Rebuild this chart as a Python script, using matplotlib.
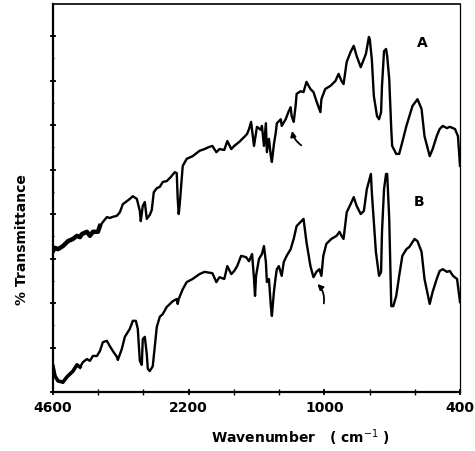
import numpy as np
import matplotlib
matplotlib.use('Agg')
import matplotlib.pyplot as plt

# spectrum A (wavenumber, transmittance in tick units)
wn_a = [4600, 4565, 4512, 4424, 4335, 4247, 4176, 4123, 4088, 4000, 3947, 3894, 3806, 3770,
        3718, 3647, 3594, 3559, 3470, 3417, 3365, 3294, 3241, 3188, 3117, 3064, 3047, 3012,
        2976, 2941, 2888, 2853, 2817, 2764, 2711, 2659, 2588, 2517, 2447, 2411, 2394, 2376,
        2358, 2305, 2235, 2165, 2104, 2060, 2016, 1990, 1955, 1928, 1885, 1858, 1823, 1797,
        1753, 1709, 1683, 1666, 1648, 1622, 1596, 1561, 1552, 1534, 1517, 1508, 1490, 1473,
        1464, 1446, 1429, 1420, 1385, 1377, 1342, 1315, 1298, 1289, 1271, 1254, 1245, 1210,
        1184, 1158, 1123, 1096, 1070, 1035, 1026, 996, 973, 951, 937, 924, 915, 901, 884,
        870, 857, 839, 816, 803, 799, 790, 781, 767, 758, 749, 745, 736, 727, 722, 713, 704,
        700, 682, 669, 655, 637, 624, 610, 588, 570, 557, 534, 521, 503, 490, 476, 458, 445,
        422, 409, 400]
tr_a = [3.17, 3.24, 3.21, 3.28, 3.39, 3.44, 3.51, 3.48, 3.55, 3.60, 3.51, 3.60, 3.60, 3.73,
        3.82, 3.93, 3.91, 3.93, 3.96, 4.04, 4.22, 4.29, 4.34, 4.40, 4.34, 4.07, 3.84, 4.18,
        4.27, 3.89, 3.98, 4.09, 4.49, 4.58, 4.61, 4.72, 4.74, 4.83, 4.94, 4.92, 4.34, 4.00,
        4.22, 5.08, 5.24, 5.30, 5.42, 5.46, 5.51, 5.53, 5.39, 5.46, 5.44, 5.64, 5.46, 5.53,
        5.62, 5.73, 5.80, 5.91, 6.07, 5.53, 5.96, 5.89, 5.98, 5.53, 6.04, 5.39, 5.69, 5.30,
        5.17, 5.57, 5.84, 6.04, 6.13, 5.98, 6.13, 6.31, 6.40, 6.20, 6.07, 6.43, 6.70, 6.76,
        6.74, 6.97, 6.81, 6.74, 6.54, 6.29, 6.58, 6.81, 6.88, 6.99, 7.15, 6.99, 6.92, 7.42, 7.64,
        7.78, 7.55, 7.30, 7.60, 7.98, 7.93, 7.48, 6.65, 6.20, 6.13, 6.29, 6.88, 7.66, 7.71, 7.55, 7.03, 5.91,
        5.53, 5.35, 5.35, 5.62, 5.98, 6.20, 6.43, 6.58, 6.36, 5.75, 5.30, 5.46, 5.75, 5.91, 5.98, 5.93, 5.96,
        5.91, 5.75, 5.08]

# spectrum B
wn_b = [4600, 4565, 4512, 4424, 4353, 4247, 4176, 4123, 4071, 4000, 3947, 3894, 3823, 3770,
        3718, 3647, 3594, 3541, 3470, 3453, 3382, 3329, 3241, 3188, 3135, 3100, 3064, 3029,
        3012, 2976, 2941, 2923, 2888, 2835, 2764, 2711, 2659, 2588, 2482, 2411, 2394, 2376,
        2305, 2235, 2165, 2104, 2060, 1990, 1955, 1928, 1885, 1858, 1823, 1797, 1771, 1736,
        1692, 1666, 1639, 1622, 1613, 1604, 1578, 1552, 1534, 1517, 1508, 1490, 1473, 1464,
        1446, 1429, 1420, 1403, 1377, 1359, 1333, 1298, 1271, 1245, 1210, 1184, 1158, 1123,
        1096, 1070, 1044, 1026, 1009, 991, 969, 946, 933, 924, 915, 901, 884, 870, 857, 839,
        825, 812, 794, 790, 772, 758, 749, 745, 736, 727, 722, 713, 704, 695, 682, 669, 655,
        637, 624, 601, 588, 570, 557, 534, 521, 503, 490, 476, 458, 445, 431, 413, 400]
tr_b = [0.58, 0.36, 0.25, 0.22, 0.34, 0.47, 0.61, 0.56, 0.67, 0.74, 0.70, 0.81, 0.81, 0.92,
        1.12, 1.15, 1.03, 0.92, 0.79, 0.72, 0.97, 1.24, 1.42, 1.60, 1.60, 1.42, 0.70, 0.61,
        1.19, 1.24, 0.85, 0.52, 0.47, 0.58, 1.46, 1.69, 1.75, 1.91, 2.04, 2.09, 1.98, 2.09,
        2.31, 2.47, 2.54, 2.65, 2.70, 2.67, 2.47, 2.58, 2.54, 2.83, 2.65, 2.72, 2.83, 3.06,
        3.03, 2.94, 3.10, 2.54, 2.16, 2.61, 2.99, 3.10, 3.28, 2.92, 2.47, 2.54, 1.93, 1.71,
        2.25, 2.61, 2.76, 2.83, 2.61, 2.92, 3.06, 3.21, 3.44, 3.73, 3.82, 3.89, 3.37, 2.83,
        2.58, 2.70, 2.76, 2.61, 3.06, 3.33, 3.44, 3.51, 3.60, 3.51, 3.44, 4.04, 4.22, 4.38, 4.18, 4.00,
        4.07, 4.56, 4.90, 4.49, 3.15, 2.61, 2.70, 3.60, 4.56, 4.90, 4.90, 3.89, 1.93, 1.93, 2.16, 2.61, 3.06,
        3.21, 3.26, 3.44, 3.39, 3.15, 2.54, 1.98, 2.25, 2.54, 2.72, 2.76, 2.70, 2.72, 2.61, 2.54, 2.02]

major_ticks = [4600, 2200, 1000, 400]
minor_ticks = [3800, 3000, 1800, 1400, 800, 600]

# instrument scale changes at 2200 and 1000 cm-1
scale_wn = [400, 1000, 2200, 4600]
scale_pos = [0, 3, 6, 9]


def forward(w):
    return np.interp(w, scale_wn, scale_pos)


def inverse(p):
    return np.interp(p, scale_pos, scale_wn)


fig = plt.figure(figsize=(4.75, 4.52), dpi=100)
ax = fig.add_axes([53 / 475, 1 - 393 / 452, 407 / 475, 388 / 452])
ax.set_xscale('function', functions=(forward, inverse))

ax.plot(wn_a, tr_a, color='black', lw=1.7)
ax.plot(wn_b, tr_b, color='black', lw=1.7)
# noisy high-wavenumber end looks smeared in the scan
ax.plot(wn_a[:14], tr_a[:14], color='black', lw=3.2, solid_joinstyle='round')
ax.plot(wn_b[:8], tr_b[:8], color='black', lw=2.6, solid_joinstyle='round')

ax.set_xlim(4600, 400)
ax.set_ylim(0, 8.72)

ax.set_xticks(major_ticks)
ax.set_xticklabels([str(t) for t in major_ticks], fontsize=10, fontweight='bold')
ax.set_xticks(minor_ticks, minor=True)
ax.set_yticks(range(9))
ax.set_yticklabels([])
ax.set_yticks(np.arange(0.5, 8.5, 1), minor=True)
ax.tick_params(which='major', direction='inout', length=5, width=1.3, pad=3)
ax.tick_params(which='minor', direction='inout', length=4, width=1.0)
ax.tick_params(axis='y', which='minor', length=2, width=0.8)

ax.spines['left'].set_linewidth(1.6)
ax.spines['bottom'].set_linewidth(1.6)
ax.spines['top'].set_linewidth(1.2)
ax.spines['right'].set_linewidth(0.9)

ax.text(566, 7.87, 'A', fontsize=10, fontweight='bold', ha='center', va='center')
ax.text(579, 4.29, 'B', fontsize=10, fontweight='bold', ha='center', va='center')

ax.annotate('', xy=(1289, 5.93), xytext=(1184, 5.51),
            arrowprops=dict(arrowstyle='-|>', color='black', lw=1.3,
                            mutation_scale=8, connectionstyle='arc3,rad=-0.25'))
ax.annotate('', xy=(1079, 2.47), xytext=(1009, 1.93),
            arrowprops=dict(arrowstyle='-|>', color='black', lw=1.3,
                            mutation_scale=8, connectionstyle='arc3,rad=0.3'))

fig.text(22 / 475, 1 - 240 / 452, '% Transmittance', rotation=90, fontsize=10,
         fontweight='bold', ha='center', va='center')
fig.text(300 / 475, 1 - 438 / 452, 'Wavenumber   ( cm$^{-1}$ )', fontsize=10,
         fontweight='bold', ha='center', va='center')

fig.savefig('out.png', dpi=100)
